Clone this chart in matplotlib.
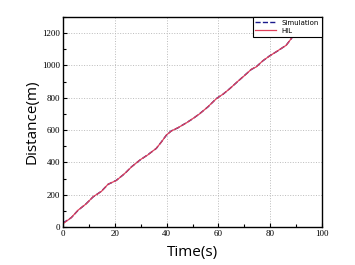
import matplotlib.pyplot as plt
from matplotlib.ticker import MultipleLocator

# values
time_s = [0, 1.5, 3.2, 5.8, 9, 11.6, 14.8, 17.4, 20.6, 23.8, 26.4, 29.6, 32.8,
          36, 38, 39.9, 41.8, 44.4, 47.6, 50.2, 52.8, 56, 59.2, 61.8, 64.4,
          67, 70.2, 72.7, 74.6, 77.2, 79.8, 83, 86.2, 88.2, 89.5, 90.5]
sim_dist = [25, 40, 58, 103, 145, 186, 221, 264, 289, 330, 372, 413, 448,
            486, 527, 568, 595, 614, 645, 671, 702, 744, 795, 822, 857,
            894, 940, 975, 992, 1029, 1060, 1091, 1126, 1167, 1202, 1230]
hil_dist = [20, 38, 58, 104, 144, 187, 220, 265, 288, 331, 371, 414, 447,
            487, 526, 569, 594, 615, 644, 672, 701, 745, 794, 823, 856,
            895, 939, 976, 991, 1030, 1059, 1092, 1125, 1168, 1201, 1230]

fig = plt.figure(figsize=(3.55, 2.65), dpi=100)
ax = fig.add_axes([63/355, 1 - 227/265, (322-63)/355, (227-17)/265])

ax.plot(time_s, sim_dist, "--", color="#1a1a8c", lw=1.0, label="Simulation")
ax.plot(time_s, hil_dist, "-", color="#e0405a", lw=0.9, label="HIL")

ax.set_xlim(0, 100)
ax.set_ylim(0, 1300)
ax.xaxis.set_major_locator(MultipleLocator(20))
ax.xaxis.set_minor_locator(MultipleLocator(10))
ax.yaxis.set_major_locator(MultipleLocator(200))
ax.yaxis.set_minor_locator(MultipleLocator(100))
ax.tick_params(which="both", direction="in", top=False, right=False, width=0.8)
ax.tick_params(which="major", length=3, labelsize=6.5, pad=2)
ax.tick_params(which="minor", length=2)
for lbl in ax.get_xticklabels() + ax.get_yticklabels():
    lbl.set_fontfamily("Liberation Serif")
for s in ax.spines.values():
    s.set_linewidth(1.0)

ax.grid(True, which="major", ls=":", color="#bbbbbb", lw=0.7)

ax.set_xlabel("Time(s)", fontsize=11, family="Open Sans", labelpad=5)
ax.set_ylabel("Distance(m)", fontsize=11, family="Open Sans", labelpad=2)

leg = ax.legend(loc="upper right", borderaxespad=0, fontsize=5, fancybox=False,
                edgecolor="black", framealpha=1, handlelength=3,
                borderpad=0.4, labelspacing=0.3)
leg.get_frame().set_linewidth(0.8)

fig.savefig("out.png", dpi=100)
